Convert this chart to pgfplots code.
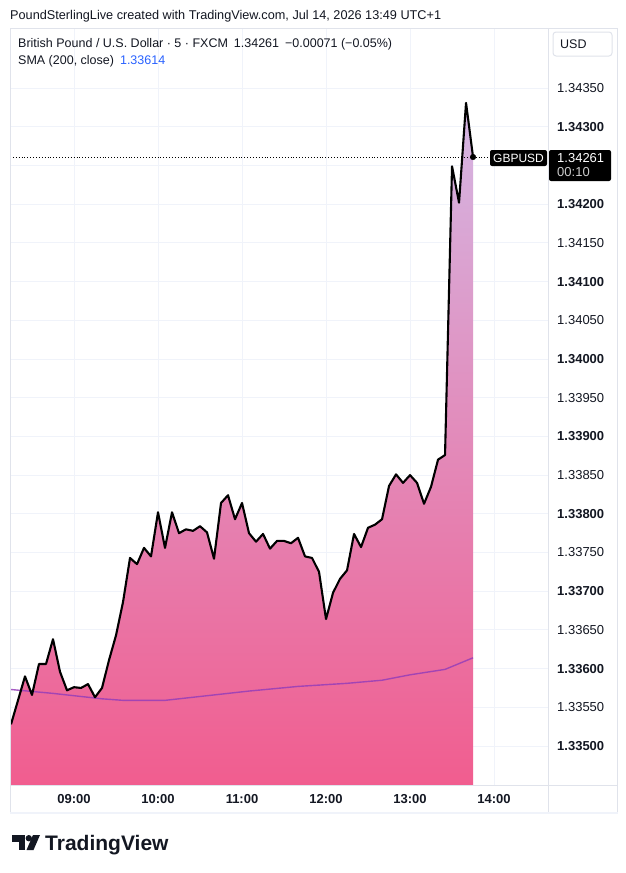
\documentclass[border=0pt]{standalone}
\usepackage{fontspec}
\setmainfont{Liberation Sans}
\usepackage{pgfplots}
\usepackage{pgfplotstable}
\pgfplotsset{compat=1.18}
\definecolor{tvtext}{HTML}{131722}
\definecolor{tvgrid}{HTML}{F0F3FA}
\definecolor{tvborder}{HTML}{E0E3EB}
\definecolor{filltop}{RGB}{212,183,228}
\definecolor{fillbot}{RGB}{241,93,143}
\definecolor{smapurple}{RGB}{150,62,185}
\definecolor{legblue}{HTML}{2962FF}

\pgfplotstableread{
k price
0 1.33528
1 1.33559
2 1.33590
3 1.33566
4 1.33606
5 1.33606
6 1.33638
7 1.33596
8 1.33572
9 1.33576
10 1.33575
11 1.33580
12 1.33563
13 1.33575
14 1.33611
15 1.33643
16 1.33686
17 1.33743
18 1.33735
19 1.33756
20 1.33745
21 1.33802
22 1.33756
23 1.33802
24 1.33775
25 1.33780
26 1.33778
27 1.33784
28 1.33776
29 1.33742
30 1.33814
31 1.33824
32 1.33793
33 1.33814
34 1.33775
35 1.33764
36 1.33774
37 1.33755
38 1.33765
39 1.33765
40 1.33762
41 1.33769
42 1.33745
43 1.33743
44 1.33725
45 1.33664
46 1.33698
47 1.33716
48 1.33727
49 1.33774
50 1.33757
51 1.33782
52 1.33786
53 1.33793
54 1.33836
55 1.33851
56 1.33840
57 1.33850
58 1.33840
59 1.33813
60 1.33835
61 1.33870
62 1.33876
63 1.34249
64 1.34202
65 1.34331
66 1.34261
}\pricedata

\pgfplotstableread{
k sma
0 1.33573
6 1.33568
9 1.33565
13 1.33561
16 1.33559
20 1.33559
22 1.33559
27 1.33564
34 1.33571
41 1.33577
48 1.33581
53 1.33585
57 1.33592
62 1.33599
66 1.33614
}\smadata

\pgfplotstableread{
k price
0 1.33528
1 1.33559
2 1.33590
3 1.33566
4 1.33606
5 1.33606
6 1.33638
7 1.33596
8 1.33572
9 1.33576
10 1.33575
11 1.33580
12 1.33563
13 1.33575
14 1.33611
15 1.33643
16 1.33686
17 1.33743
18 1.33735
19 1.33756
20 1.33745
21 1.33802
22 1.33756
23 1.33802
24 1.33775
25 1.33780
26 1.33778
27 1.33784
28 1.33776
29 1.33742
30 1.33814
31 1.33824
32 1.33793
33 1.33814
34 1.33775
35 1.33764
36 1.33774
37 1.33755
38 1.33765
39 1.33765
40 1.33762
41 1.33769
42 1.33745
43 1.33743
44 1.33725
45 1.33664
46 1.33698
47 1.33716
48 1.33727
49 1.33774
50 1.33757
51 1.33782
52 1.33786
53 1.33793
54 1.33836
55 1.33851
56 1.33840
57 1.33850
58 1.33840
59 1.33813
60 1.33835
61 1.33870
62 1.33876
63 1.34249
64 1.34202
65 1.34331
66 1.34261
66 1.334496
0 1.334496
}\filldata

\begin{document}
\begin{tikzpicture}
\begin{scope}[x=1bp,y=-1bp]
\path[use as bounding box, fill=white] (0,0) rectangle (626,873);
\end{scope}

\begin{axis}[
  at={(10bp,-28bp)}, anchor=north west,
  width=538bp, height=757bp, scale only axis,
  xmin=-0.143, xmax=76.71, ymin=1.334496, ymax=1.344277,
  axis line style={draw=none},
  xtick={9,21,33,45,57,69},
  xticklabels={09:00,10:00,11:00,12:00,13:00,14:00},
  ytick={1.335,1.3355,1.336,1.3365,1.337,1.3375,1.338,1.3385,1.339,1.3395,1.340,1.3405,1.341,1.3415,1.342,1.3425,1.343,1.3435},
  yticklabels={\textbf{1.33500},1.33550,\textbf{1.33600},1.33650,\textbf{1.33700},1.33750,\textbf{1.33800},1.33850,\textbf{1.33900},1.33950,\textbf{1.34000},1.34050,\textbf{1.34100},1.34150,\textbf{1.34200},{},\textbf{1.34300},1.34350},
  yticklabel pos=right,
  major tick length=0pt,
  grid=major, grid style={tvgrid, line width=1bp},
  xticklabel style={font=\fontsize{13bp}{15bp}\selectfont\bfseries, text=tvtext, anchor=base, yshift=-18.5bp, inner sep=0pt},
  yticklabel style={font=\fontsize{13bp}{15bp}\selectfont, text=tvtext, anchor=west, xshift=9bp, inner sep=0pt},
]
\addplot[top color=filltop, bottom color=fillbot, draw=none] table[x=k,y=price]{\filldata} -- cycle;
\addplot[smapurple, opacity=0.85, line width=1.4bp] table[x=k,y=sma]{\smadata};
\addplot[black, line width=2.1bp, line join=round] table[x=k,y=price]{\pricedata};
\draw[black, dotted, line width=0.9bp] (axis cs:-0.143,1.34261) -- (axis cs:68.4,1.34261);
\addplot[only marks, mark=*, mark size=2.8bp, black] coordinates {(66,1.34261)};
\end{axis}

\begin{scope}[x=1bp,y=-1bp]
% panel frame and separators
\draw[tvborder, line width=1bp] (10.5,28.5) rectangle (617,812);
\draw[tvborder, line width=1bp] (548.5,28.5) -- (548.5,812);
\draw[tvborder, line width=1bp] (10.5,785.5) -- (617,785.5);
\draw[tvgrid, line width=2bp] (10,813) -- (618,813);

% header
\node[anchor=base west, inner sep=0pt, text=tvtext, font=\fontsize{12.7bp}{14bp}\selectfont] at (10,19) {PoundSterlingLive created with TradingView.com, Jul 14, 2026 13:49 UTC+1};
\node[anchor=base west, inner sep=0pt, text=tvtext, font=\fontsize{12.5bp}{14bp}\selectfont] at (18,47.5) {British Pound / U.S. Dollar · 5 · FXCM\hspace{6bp}1.34261\hspace{6bp}−0.00071 (−0.05\%)};
\node[anchor=base west, inner sep=0pt, text=tvtext, font=\fontsize{12.5bp}{14bp}\selectfont] at (18,64.5) {SMA (200, close)\hspace{6bp}\textcolor{legblue}{1.33614}};

% USD box
\draw[tvborder, line width=1bp, fill=white, rounded corners=3bp] (553,32) rectangle (612,56);
\node[anchor=base west, inner sep=0pt, text=tvtext, font=\fontsize{12.5bp}{14bp}\selectfont] at (560,48.5) {USD};

% last price labels
\fill[black, rounded corners=2bp] (490,150) rectangle (547,166);
\node[text=white, inner sep=0pt, font=\fontsize{12bp}{14bp}\selectfont] at (518.5,158) {GBPUSD};
\fill[black, rounded corners=2bp] (549,150) rectangle (611,181);
\node[anchor=west, text=white, inner sep=0pt, font=\fontsize{13bp}{15bp}\selectfont] at (557,158) {1.34261};
\node[anchor=west, text=white!80!black, inner sep=0pt, font=\fontsize{13bp}{15bp}\selectfont] at (557,172.5) {00:10};

% TradingView logo
\fill[tvtext] (12,835) rectangle (25,842);
\fill[tvtext] (18.5,835) rectangle (25,850);
\fill[tvtext] (28.8,838.2) circle (3.2);
\fill[tvtext] (33,835) -- (40,835) -- (33.5,850) -- (26.5,850) -- cycle;
\node[anchor=base west, inner sep=0pt, text=tvtext, font=\fontsize{21bp}{24bp}\selectfont\bfseries] at (45,850) {TradingView};
\end{scope}
\end{tikzpicture}
\end{document}
